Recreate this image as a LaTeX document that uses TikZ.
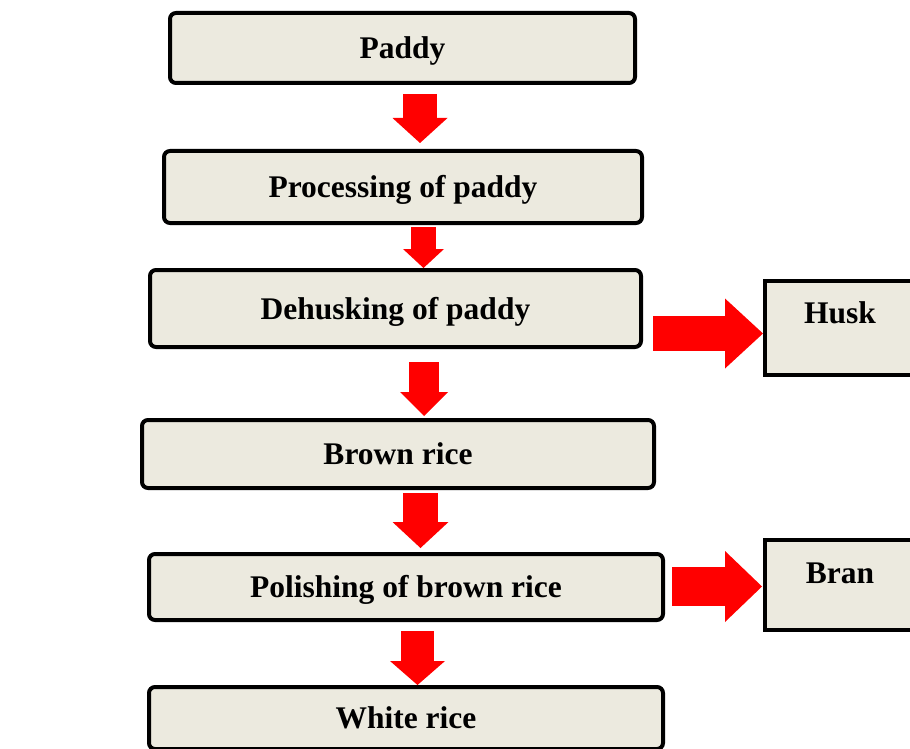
\documentclass[tikz,border=0pt]{standalone}
\usepackage{fontspec}
\setmainfont{Liberation Serif}
\usetikzlibrary{arrows.meta}
\definecolor{boxfill}{RGB}{236,234,223}

\begin{document}
\begin{tikzpicture}[x=1pt,y=-1pt,
    stage/.style={draw, fill=boxfill, line width=4pt, rounded corners=6pt,
      font=\fontsize{31.5}{36}\selectfont\bfseries, text height=21pt, text depth=0pt},
    waste/.style={draw, fill=boxfill, line width=4pt, minimum width=150pt,
      font=\fontsize{31.5}{36}\selectfont\bfseries, text height=21pt, text depth=#1},
    flow/.style n args={3}{draw=red, line width=#1,
      -{Triangle[width=#2, length=#3, line width=0pt]}}]
  \useasboundingbox (0,0) rectangle (910,749);
  \clip (0,0) rectangle (910,749);
  \node [stage, minimum width=465pt, minimum height=70pt] (paddy) at (402.5,48) {Paddy};
  \node [stage, minimum width=478pt, minimum height=72pt] (proc) at (403,187) {Processing of paddy};
  \node [stage, minimum width=491pt, minimum height=77pt] (dehusk) at (395.5,308.5) {Dehusking of paddy};
  \node [stage, minimum width=512pt, minimum height=68pt] (brown) at (398,454) {Brown rice};
  \node [stage, minimum width=514pt, minimum height=66pt] (polish) at (406,587) {Polishing of brown rice};
  \node [stage, minimum width=514pt, minimum height=62pt] (white) at (406,718) {White rice};
  \node [waste=30pt, minimum height=94pt] (husk) at (840,328) {Husk};
  \node [waste=24pt, minimum height=90pt] (bran) at (840,585) {Bran};
  \draw [flow={34pt}{55pt}{25pt}, shorten <=9pt, shorten >=6pt] ([xshift=17.5pt]paddy.south) -- ([xshift=17pt]proc.north);
  \draw [flow={25pt}{41pt}{19pt}, shorten <=2pt] ([xshift=20.5pt]proc.south) -- ([xshift=28pt]dehusk.north);
  \draw [flow={30pt}{48pt}{24pt}, shorten <=13pt, shorten >=2pt] ([xshift=28.5pt]dehusk.south) -- ([xshift=26pt]brown.north);
  \draw [flow={35pt}{56pt}{26pt}, shorten <=3pt, shorten >=4pt] ([xshift=22.5pt]brown.south) -- ([xshift=14.5pt]polish.north);
  \draw [flow={33pt}{55pt}{24pt}, shorten <=9pt] ([xshift=11.5pt]polish.south) -- ([xshift=11.5pt]white.north);
  \draw [flow={35pt}{70pt}{38pt}, shorten <=10pt] ([yshift=-25pt]dehusk.east) -- ([yshift=-5.5pt]husk.west);
  \draw [flow={39pt}{71pt}{37pt}, shorten <=7pt, shorten >=1pt] ([yshift=0.5pt]polish.east) -- ([yshift=-1.5pt]bran.west);
\end{tikzpicture}
\end{document}
